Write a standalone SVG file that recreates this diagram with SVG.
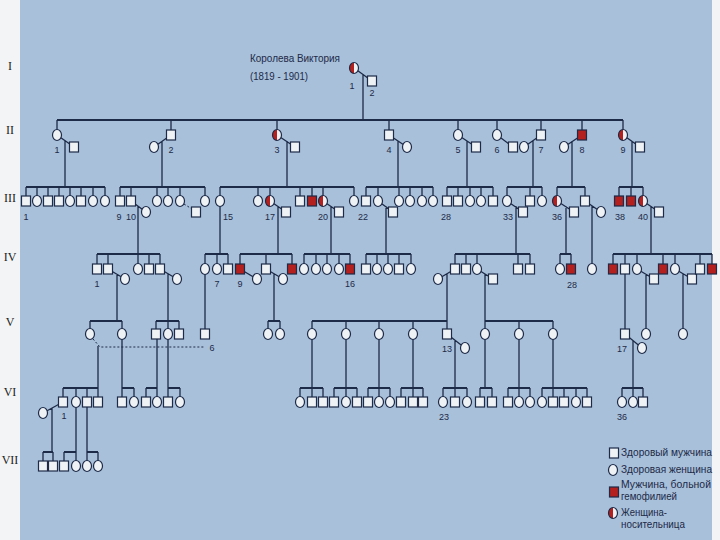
<svg xmlns="http://www.w3.org/2000/svg" xmlns:xlink="http://www.w3.org/1999/xlink" width="720" height="540" viewBox="0 0 720 540">
<style>
.s{fill:#eef2f5;stroke:#1d2a48;stroke-width:1.2}
.a{fill:#b3201d;stroke:#1d2a48;stroke-width:1.2}
.ln{fill:none;stroke:#1d2a48;stroke-width:1.3}
.bar{fill:none;stroke:#1d2a48;stroke-width:1.8}
.dash{fill:none;stroke:#1d2a48;stroke-width:1;stroke-dasharray:2 2}
.lb{font-family:'Liberation Sans',Arial,sans-serif;font-size:9px;fill:#1d2a48;text-anchor:middle}
.rn{font-family:'Liberation Serif','Times New Roman',serif;font-size:12px;fill:#222;text-anchor:middle}
.tt{font-family:'Liberation Sans',Arial,sans-serif;font-size:11px;fill:#1d2a48}
.lg{font-family:'Liberation Sans',Arial,sans-serif;font-size:11px;fill:#1d2a48}
</style>
<defs>
<rect id="M" x="-4.5" y="-5" width="9" height="10" class="s"/>
<ellipse id="F" rx="4.5" ry="5.5" class="s"/>
<rect id="A" x="-4.5" y="-5" width="9" height="10" class="a"/>
<g id="C"><ellipse rx="4.5" ry="5.5" fill="#eef2f5"/><path d="M0,-5.5 A4.5,5.5 0 0 0 0,5.5 Z" fill="#b3201d"/><ellipse rx="4.5" ry="5.5" fill="none" stroke="#1d2a48" stroke-width="1.2"/></g>
</defs>
<rect x="0" y="0" width="720" height="540" fill="#f3f4f6"/>
<rect x="20" y="0" width="692" height="540" fill="#a8c0da"/>
<g id="generations">
<text class="rn" x="10" y="70">I</text>
<text class="rn" x="10" y="134">II</text>
<text class="rn" x="10" y="202">III</text>
<text class="rn" x="10" y="261">IV</text>
<text class="rn" x="10" y="326">V</text>
<text class="rn" x="10" y="396">VI</text>
<text class="rn" x="10" y="464">VII</text>
</g>
<g id="connectors">
<path class="ln" d="M354,68 L372,81 M363,74 V120"/>
<path class="bar" d="M57,120 H623"/>
<path class="ln" d="M57,120V135 M171,120V135 M277,120V135 M389,120V135 M458,120V135 M497,120V135 M541,120V135 M582,120V135 M623,120V135
M57,135L74,147 M171,135L154,147 M277,135L295,147 M389,135L407,147 M458,135L476,147 M497,135L513,147 M541,135L524,147 M582,135L564,147 M623,135L640,147
M65,141V187 M162,141V187 M287,141V187 M398,141V187 M467,141V187 M533,141V187 M572,141V187 M632,141V187"/>
<path class="bar" d="M26,187H105 M120,187H205 M220,187H354 M366,187H433 M447,187H493 M507,187H542 M557,187H585 M619,187H643"/>
<path class="ln" d="M26,187V201 M37,187V201 M48,187V201 M59,187V201 M70,187V201 M81,187V201 M93,187V201 M105,187V201 M120,187V201 M131,187V201 M157,187V201 M168,187V201 M180,187V201 M205,187V201 M220,187V201 M258,187V201 M270,187V201 M300,187V201 M312,187V201 M323,187V201 M354,187V201 M366,187V201 M378,187V201 M399,187V201 M410,187V201 M422,187V201 M433,187V201 M447,187V201 M458,187V201 M470,187V201 M481,187V201 M493,187V201 M507,187V201 M530,187V201 M542,187V201 M557,187V201 M585,187V201 M619,187V201 M631,187V201 M643,187V201
M131,201L146,212 M270,201L286,212 M323,201L339,212 M378,201L393,212 M507,201L523,212 M557,201L574,212 M585,201L601,212 M643,201L659,212
M138,206V254 M220,201V254 M278,206V254 M331,206V254 M386,206V254 M516,206V254 M566,206V254 M592,206V269 M651,206V254"/>
<path class="dash" d="M184,204 L192,209"/>
<path class="bar" d="M97,254H160 M205,254H228 M240,254H292 M304,254H350 M366,254H411 M455,254H530 M560,254H571 M613,254H712"/>
<path class="ln" d="M97,254V269 M108,254V269 M138,254V269 M149,254V269 M160,254V269 M205,254V269 M217,254V269 M228,254V269 M240,254V269 M266,254V269 M292,254V269 M304,254V269 M316,254V269 M327,254V269 M339,254V269 M350,254V269 M366,254V269 M377,254V269 M388,254V269 M399,254V269 M411,254V269 M455,254V269 M466,254V269 M477,254V269 M518,254V269 M530,254V269 M560,254V269 M571,254V269 M613,254V269 M625,254V269 M637,254V269 M663,254V269 M675,254V269 M700,254V269 M712,254V269
M108,269L125,279 M160,269L177,279 M240,269L257,279 M266,269L283,279 M455,269L438,279 M477,269L493,279 M637,269L654,279 M675,269L692,279
M117,274V321 M168,274V321 M274,274V321 M447,274V321 M485,274V321 M646,274V334 M683,274V334 M205,269V334 M625,269V334"/>
<path class="bar" d="M90,321H122 M156,321H179 M268,321H280 M312,321H447 M485,321H553"/>
<path class="ln" d="M90,321V334 M122,321V334 M156,321V334 M168,321V334 M179,321V334 M268,321V334 M280,321V334 M312,321V334 M346,321V334 M379,321V334 M413,321V334 M447,321V334 M485,321V334 M519,321V334 M553,321V334
M447,334L465,348 M625,334L642,348
M98,346V388 M122,334V388 M157,334V388 M168,334V388 M312,334V388 M346,334V388 M379,334V388 M413,334V388 M455,341V388 M485,334V388 M519,334V388 M553,334V388 M633,341V388"/>
<path class="dash" d="M93,339 L100,347 H204"/>
<path class="bar" d="M63,388H98 M122,388H134 M146,388H157 M168,388H180 M300,388H323 M334,388H357 M368,388H390 M401,388H423 M443,388H467 M480,388H492 M508,388H530 M542,388H587 M622,388H643"/>
<path class="ln" d="M63,388V402 M76,388V402 M87,388V402 M98,388V402 M122,388V402 M134,388V402 M146,388V402 M157,388V402 M168,388V402 M180,388V402 M300,388V402 M312,388V402 M323,388V402 M334,388V402 M346,388V402 M357,388V402 M368,388V402 M379,388V402 M390,388V402 M401,388V402 M413,388V402 M423,388V402 M443,388V402 M455,388V402 M467,388V402 M480,388V402 M492,388V402 M508,388V402 M519,388V402 M530,388V402 M542,388V402 M553,388V402 M564,388V402 M576,388V402 M587,388V402 M622,388V402 M633,388V402 M643,388V402
M63,402L43,413 M52,408V452 M76,402V452 M87,402V452"/>
<path class="bar" d="M43,452H53 M64,452H76 M87,452H98"/>
<path class="ln" d="M43,452V466 M53,452V466 M64,452V466 M76,452V466 M87,452V466 M98,452V466"/>
</g>
<g id="gen-I">
<text class="tt" x="250" y="62" textLength="90" lengthAdjust="spacingAndGlyphs">Королева Виктория</text>
<text class="tt" x="250" y="80" textLength="58" lengthAdjust="spacingAndGlyphs">(1819 - 1901)</text>
<g id="I-1"><use href="#C" x="354" y="68"/><text class="lb" x="352" y="89">1</text></g>
<g id="I-2"><use href="#M" x="372" y="81"/><text class="lb" x="372" y="96">2</text></g>
</g>
<g id="gen-II">
<g id="II-1"><use href="#F" x="57" y="135"/><use href="#M" x="74" y="147"/><text class="lb" x="57" y="153">1</text></g>
<g id="II-2"><use href="#M" x="171" y="135"/><use href="#F" x="154" y="147"/><text class="lb" x="171" y="153">2</text></g>
<g id="II-3"><use href="#C" x="277" y="135"/><use href="#M" x="295" y="147"/><text class="lb" x="277" y="153">3</text></g>
<g id="II-4"><use href="#M" x="389" y="135"/><use href="#F" x="407" y="147"/><text class="lb" x="389" y="153">4</text></g>
<g id="II-5"><use href="#F" x="458" y="135"/><use href="#M" x="476" y="147"/><text class="lb" x="458" y="153">5</text></g>
<g id="II-6"><use href="#F" x="497" y="135"/><use href="#M" x="513" y="147"/><text class="lb" x="497" y="153">6</text></g>
<g id="II-7"><use href="#M" x="541" y="135"/><use href="#F" x="524" y="147"/><text class="lb" x="541" y="153">7</text></g>
<g id="II-8"><use href="#A" x="582" y="135"/><use href="#F" x="564" y="147"/><text class="lb" x="582" y="153">8</text></g>
<g id="II-9"><use href="#C" x="623" y="135"/><use href="#M" x="640" y="147"/><text class="lb" x="623" y="153">9</text></g>
</g>
<g id="gen-III">
<use id="III-1" href="#M" x="26" y="201"/><use href="#F" x="37" y="201"/><use href="#M" x="48" y="201"/><use href="#M" x="59" y="201"/><use href="#F" x="70" y="201"/><use href="#M" x="81" y="201"/><use href="#F" x="93" y="201"/><use href="#F" x="105" y="201"/>
<use id="III-9" href="#M" x="120" y="201"/><use id="III-10" href="#M" x="131" y="201"/><use href="#F" x="146" y="212"/><use href="#F" x="157" y="201"/><use href="#F" x="168" y="201"/><use href="#F" x="180" y="201"/><use href="#M" x="196" y="212"/><use href="#F" x="205" y="201"/>
<use id="III-15" href="#F" x="220" y="201"/><use href="#F" x="258" y="201"/><use id="III-17" href="#C" x="270" y="201"/><use href="#M" x="286" y="212"/><use href="#M" x="300" y="201"/><use href="#A" x="312" y="201"/><use id="III-20" href="#C" x="323" y="201"/><use href="#M" x="339" y="212"/><use href="#F" x="354" y="201"/>
<use id="III-22" href="#M" x="366" y="201"/><use href="#F" x="378" y="201"/><use href="#M" x="393" y="212"/><use href="#F" x="399" y="201"/><use href="#F" x="410" y="201"/><use href="#F" x="422" y="201"/><use href="#F" x="433" y="201"/>
<use id="III-28" href="#M" x="447" y="201"/><use href="#M" x="458" y="201"/><use href="#F" x="470" y="201"/><use href="#F" x="481" y="201"/><use href="#M" x="493" y="201"/>
<use id="III-33" href="#F" x="507" y="201"/><use href="#M" x="523" y="212"/><use href="#M" x="530" y="201"/><use href="#F" x="542" y="201"/>
<use id="III-36" href="#C" x="557" y="201"/><use href="#M" x="574" y="212"/><use href="#M" x="585" y="201"/><use href="#F" x="601" y="212"/>
<use id="III-38" href="#A" x="619" y="201"/><use href="#A" x="631" y="201"/><use id="III-40" href="#C" x="643" y="201"/><use href="#M" x="659" y="212"/>
<text class="lb" x="26" y="220">1</text><text class="lb" x="119" y="220">9</text><text class="lb" x="131" y="220">10</text><text class="lb" x="228" y="220">15</text><text class="lb" x="270" y="220">17</text><text class="lb" x="323" y="220">20</text><text class="lb" x="363" y="220">22</text><text class="lb" x="446" y="220">28</text><text class="lb" x="508" y="220">33</text><text class="lb" x="557" y="220">36</text><text class="lb" x="620" y="220">38</text><text class="lb" x="643" y="220">40</text>
</g>
<g id="gen-IV">
<use id="IV-1" href="#M" x="97" y="269"/><use href="#M" x="108" y="269"/><use href="#F" x="125" y="279"/><use href="#F" x="138" y="269"/><use href="#M" x="149" y="269"/><use href="#M" x="160" y="269"/><use href="#F" x="177" y="279"/>
<use href="#F" x="205" y="269"/><use id="IV-7" href="#F" x="217" y="269"/><use href="#M" x="228" y="269"/>
<use id="IV-9" href="#A" x="240" y="269"/><use href="#F" x="257" y="279"/><use href="#M" x="266" y="269"/><use href="#F" x="283" y="279"/><use href="#A" x="292" y="269"/>
<use href="#F" x="304" y="269"/><use href="#F" x="316" y="269"/><use href="#F" x="327" y="269"/><use href="#F" x="339" y="269"/><use id="IV-16" href="#A" x="350" y="269"/>
<use href="#M" x="366" y="269"/><use href="#F" x="377" y="269"/><use href="#F" x="388" y="269"/><use href="#M" x="399" y="269"/><use href="#F" x="411" y="269"/>
<use href="#F" x="438" y="279"/><use href="#M" x="455" y="269"/><use href="#M" x="466" y="269"/><use href="#F" x="477" y="269"/><use href="#M" x="493" y="279"/><use href="#M" x="518" y="269"/><use href="#M" x="530" y="269"/>
<use href="#F" x="560" y="269"/><use id="IV-28" href="#A" x="571" y="269"/><use href="#F" x="592" y="269"/>
<use href="#A" x="613" y="269"/><use href="#M" x="625" y="269"/><use href="#F" x="637" y="269"/><use href="#M" x="654" y="279"/><use href="#A" x="663" y="269"/><use href="#F" x="675" y="269"/><use href="#M" x="692" y="279"/><use href="#M" x="700" y="269"/><use href="#A" x="712" y="269"/>
<text class="lb" x="97" y="287">1</text><text class="lb" x="217" y="287">7</text><text class="lb" x="240" y="287">9</text><text class="lb" x="350" y="287">16</text><text class="lb" x="572" y="288">28</text>
</g>
<g id="gen-V">
<use href="#F" x="90" y="334"/><use href="#F" x="122" y="334"/>
<use href="#M" x="156" y="334"/><use href="#F" x="168" y="334"/><use href="#M" x="179" y="334"/>
<use id="V-6" href="#M" x="205" y="334"/>
<use href="#F" x="268" y="334"/><use href="#F" x="280" y="334"/>
<use href="#F" x="312" y="334"/><use href="#F" x="346" y="334"/><use href="#F" x="379" y="334"/><use href="#F" x="413" y="334"/><use id="V-13" href="#M" x="447" y="334"/><use href="#F" x="465" y="348"/>
<use href="#F" x="485" y="334"/><use href="#F" x="519" y="334"/><use href="#F" x="553" y="334"/>
<use id="V-17" href="#M" x="625" y="334"/><use href="#F" x="642" y="348"/><use href="#F" x="646" y="334"/><use href="#F" x="683" y="334"/>
<text class="lb" x="212" y="351">6</text><text class="lb" x="447" y="352">13</text><text class="lb" x="622" y="352">17</text>
</g>
<g id="gen-VI">
<use href="#F" x="43" y="413"/><use id="VI-1" href="#M" x="63" y="402"/><use href="#F" x="76" y="402"/><use href="#M" x="87" y="402"/><use href="#M" x="98" y="402"/>
<use href="#M" x="122" y="402"/><use href="#F" x="134" y="402"/><use href="#M" x="146" y="402"/><use href="#F" x="157" y="402"/><use href="#M" x="168" y="402"/><use href="#F" x="180" y="402"/>
<use href="#F" x="300" y="402"/><use href="#M" x="312" y="402"/><use href="#M" x="323" y="402"/>
<use href="#M" x="334" y="402"/><use href="#F" x="346" y="402"/><use href="#M" x="357" y="402"/>
<use href="#M" x="368" y="402"/><use href="#F" x="379" y="402"/><use href="#F" x="390" y="402"/>
<use href="#M" x="401" y="402"/><use href="#M" x="413" y="402"/><use href="#M" x="423" y="402"/>
<use id="VI-23" href="#F" x="443" y="402"/><use href="#M" x="455" y="402"/><use href="#F" x="467" y="402"/>
<use href="#M" x="480" y="402"/><use href="#M" x="492" y="402"/>
<use href="#M" x="508" y="402"/><use href="#F" x="519" y="402"/><use href="#F" x="530" y="402"/>
<use href="#F" x="542" y="402"/><use href="#M" x="553" y="402"/><use href="#M" x="564" y="402"/><use href="#F" x="576" y="402"/><use href="#M" x="587" y="402"/>
<use id="VI-36" href="#F" x="622" y="402"/><use href="#F" x="633" y="402"/><use href="#M" x="643" y="402"/>
<text class="lb" x="64" y="419">1</text><text class="lb" x="444" y="420">23</text><text class="lb" x="622" y="420">36</text>
</g>
<g id="gen-VII">
<use href="#M" x="43" y="466"/><use href="#M" x="53" y="466"/><use href="#M" x="64" y="466"/><use href="#F" x="76" y="466"/><use href="#F" x="87" y="466"/><use href="#F" x="98" y="466"/>
</g>
<g id="legend">
<use href="#M" x="614" y="453"/><text class="lg" x="621" y="456" textLength="91" lengthAdjust="spacingAndGlyphs">Здоровый мужчина</text>
<use href="#F" x="613" y="470"/><text class="lg" x="621" y="473" textLength="91" lengthAdjust="spacingAndGlyphs">Здоровая женщина</text>
<use href="#A" x="614" y="492"/><text class="lg" x="621" y="488" textLength="90" lengthAdjust="spacingAndGlyphs">Мужчина, больной</text><text class="lg" x="621" y="500" textLength="56" lengthAdjust="spacingAndGlyphs">гемофилией</text>
<use href="#C" x="613" y="513"/><text class="lg" x="621" y="516" textLength="46" lengthAdjust="spacingAndGlyphs">Женщина-</text><text class="lg" x="621" y="528" textLength="64" lengthAdjust="spacingAndGlyphs">носительница</text>
</g>
</svg>
